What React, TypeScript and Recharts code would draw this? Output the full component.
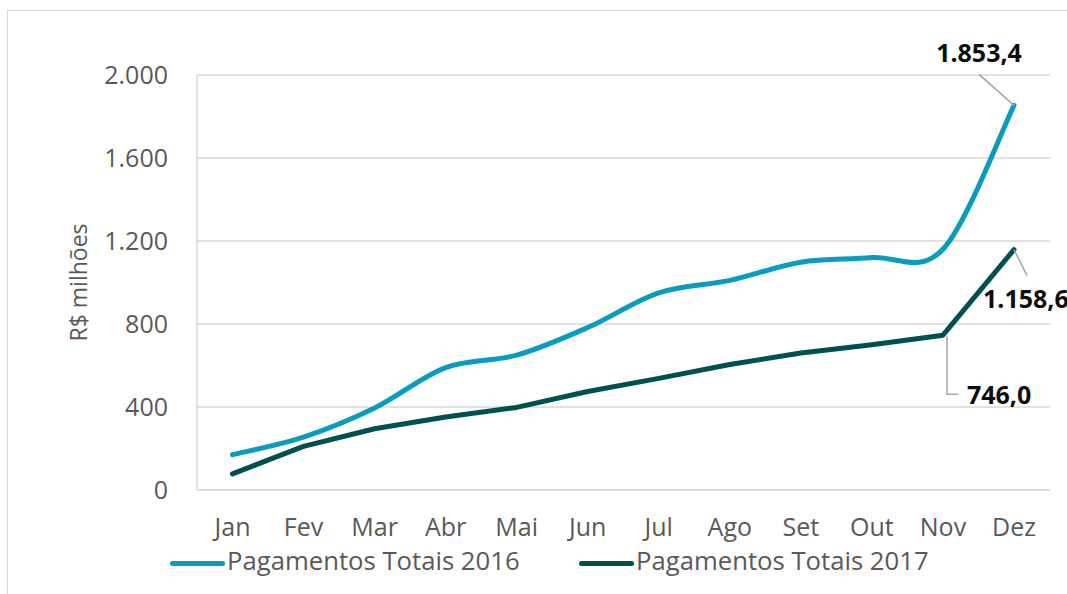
import React from "react";
import {
  LineChart,
  Line,
  XAxis,
  YAxis,
  CartesianGrid,
  Legend,
  LabelList,
  Label,
} from "recharts";

const meses = ["Jan", "Fev", "Mar", "Abr", "Mai", "Jun", "Jul", "Ago", "Set", "Out", "Nov", "Dez"];
const pagamentos2016 = [170, 255, 395, 590, 650, 783, 950, 1010, 1098, 1120, 1160, 1853.4];
const pagamentos2017 = [78, 210, 295, 352, 398, 475, 538, 605, 660, 700, 746.0, 1158.6];
const yTicks = [0, 400, 800, 1200, 1600, 2000];

const data = meses.map((mes, i) => ({
  mes,
  p2016: pagamentos2016[i],
  p2017: pagamentos2017[i],
}));

const AZUL = "#0A9CBF";
const VERDE = "#00504F";
const GRADE = "#D9D9D9";
const TEXTO = "#595959";
const FONTE = "'Open Sans', sans-serif";

const milhar = (v: number) => String(Math.round(v)).replace(/\B(?=(\d{3})+(?!\d))/g, ".");
const rotulo = (v: number) => {
  const [int, dec] = v.toFixed(1).split(".");
  return milhar(Number(int)) + "," + dec;
};

// curva suavizada estilo Excel (catmull-rom)
function suave(context: any) {
  let pts: number[][] = [];
  return {
    areaStart() {},
    areaEnd() {},
    lineStart() {
      pts = [];
    },
    point(x: number, y: number) {
      pts.push([+x, +y]);
    },
    lineEnd() {
      const n = pts.length;
      if (!n) return;
      context.moveTo(pts[0][0], pts[0][1]);
      for (let i = 0; i < n - 1; i++) {
        const p0 = pts[Math.max(i - 1, 0)];
        const p1 = pts[i];
        const p2 = pts[i + 1];
        const p3 = pts[Math.min(i + 2, n - 1)];
        context.bezierCurveTo(
          p1[0] + (p2[0] - p0[0]) / 6,
          p1[1] + (p2[1] - p0[1]) / 6,
          p2[0] - (p3[0] - p1[0]) / 6,
          p2[1] - (p3[1] - p1[1]) / 6,
          p2[0],
          p2[1]
        );
      }
    },
  };
}

// posição dos rótulos relativa ao ponto
const rotulos2016: Record<number, any> = {
  11: { tx: -35, ty: -43, anchor: "middle", linha: [[-35, -31], [0, 0]] },
};
const rotulos2017: Record<number, any> = {
  10: { tx: 24, ty: 69, anchor: "start", linha: [[4, 1], [4, 59], [15, 59]] },
  11: { tx: -31, ty: 58, anchor: "start", linha: [[0, 0], [13, 26]] },
};

const rotuloDados = (cfg: Record<number, any>) => (props: any) => {
  const { x, y, index, value } = props;
  const c = cfg[index];
  if (!c) return null;
  return (
    <g>
      <polyline
        points={c.linha.map((p: number[]) => `${x + p[0]},${y + p[1]}`).join(" ")}
        fill="none"
        stroke="#A6A6A6"
        strokeWidth={1.5}
      />
      <text
        x={x + c.tx}
        y={y + c.ty}
        textAnchor={c.anchor}
        fontSize={25}
        fontWeight="bold"
        fill="#0D0D0D"
        fontFamily={FONTE}
      >
        {rotulo(value)}
      </text>
    </g>
  );
};

const legendaX = [[170, 227], [579, 636]];

function Legenda({ payload }: any) {
  return (
    <div style={{ position: "relative", width: 1067, height: 50, fontFamily: FONTE }}>
      {(payload || []).map((item: any, i: number) => (
        <React.Fragment key={item.value}>
          <div
            style={{
              position: "absolute",
              left: legendaX[i][0],
              top: 16.5,
              width: 55,
              height: 5,
              borderRadius: 3,
              background: item.color,
            }}
          />
          <span
            style={{
              position: "absolute",
              left: legendaX[i][1],
              top: 2,
              fontSize: 25.7,
              lineHeight: "30px",
              color: TEXTO,
              whiteSpace: "nowrap",
            }}
          >
            {item.value}
          </span>
        </React.Fragment>
      ))}
    </div>
  );
}

function TituloY({ viewBox }: any) {
  const cx = viewBox.x + 78;
  const cy = viewBox.y + viewBox.height / 2;
  return (
    <text
      x={cx}
      y={cy}
      transform={`rotate(-90 ${cx} ${cy})`}
      textAnchor="middle"
      dominantBaseline="central"
      fontSize={23}
      fill={TEXTO}
      fontFamily={FONTE}
    >
      R$ milhões
    </text>
  );
}

export default function App() {
  return (
    <div style={{ position: "relative", width: 1067, height: 594, overflow: "hidden", background: "#fff" }}>
      <style>{`body{margin:0;overflow:hidden}`}</style>
      <div
        style={{
          position: "absolute",
          left: 7,
          top: 10,
          width: 1100,
          height: 600,
          borderLeft: `1.5px solid ${GRADE}`,
          borderTop: `1.5px solid ${GRADE}`,
        }}
      />
      <LineChart
        width={1067}
        height={594}
        data={data}
        margin={{ top: 75, right: 17, left: 0, bottom: 0 }}
        style={{ fontFamily: FONTE }}
      >
        <CartesianGrid vertical={false} stroke={GRADE} strokeWidth={1.5} />
        <XAxis
          dataKey="mes"
          height={54}
          padding={{ left: 35.5, right: 36 }}
          tickLine={false}
          tickSize={0}
          tickMargin={28}
          axisLine={{ stroke: GRADE, strokeWidth: 1.5 }}
          tick={{ fill: TEXTO, fontSize: 25, fontFamily: FONTE }}
          interval={0}
        />
        <YAxis
          width={197}
          domain={[0, 2000]}
          ticks={yTicks}
          tickFormatter={milhar}
          tickLine={false}
          tickSize={0}
          tickMargin={29}
          axisLine={{ stroke: GRADE, strokeWidth: 1.5 }}
          tick={{ fill: TEXTO, fontSize: 25, fontFamily: FONTE }}
        >
          <Label content={TituloY} />
        </YAxis>
        <Legend
          verticalAlign="bottom"
          height={50}
          content={Legenda}
          wrapperStyle={{ left: 0, width: 1067 }}
        />
        <Line
          name="Pagamentos Totais 2016"
          dataKey="p2016"
          type={suave as any}
          stroke={AZUL}
          strokeWidth={5}
          strokeLinecap="round"
          dot={false}
          activeDot={false}
          isAnimationActive={false}
        >
          <LabelList dataKey="p2016" content={rotuloDados(rotulos2016)} />
        </Line>
        <Line
          name="Pagamentos Totais 2017"
          dataKey="p2017"
          type="linear"
          stroke={VERDE}
          strokeWidth={5}
          strokeLinecap="round"
          strokeLinejoin="round"
          dot={false}
          activeDot={false}
          isAnimationActive={false}
        >
          <LabelList dataKey="p2017" content={rotuloDados(rotulos2017)} />
        </Line>
      </LineChart>
    </div>
  );
}
